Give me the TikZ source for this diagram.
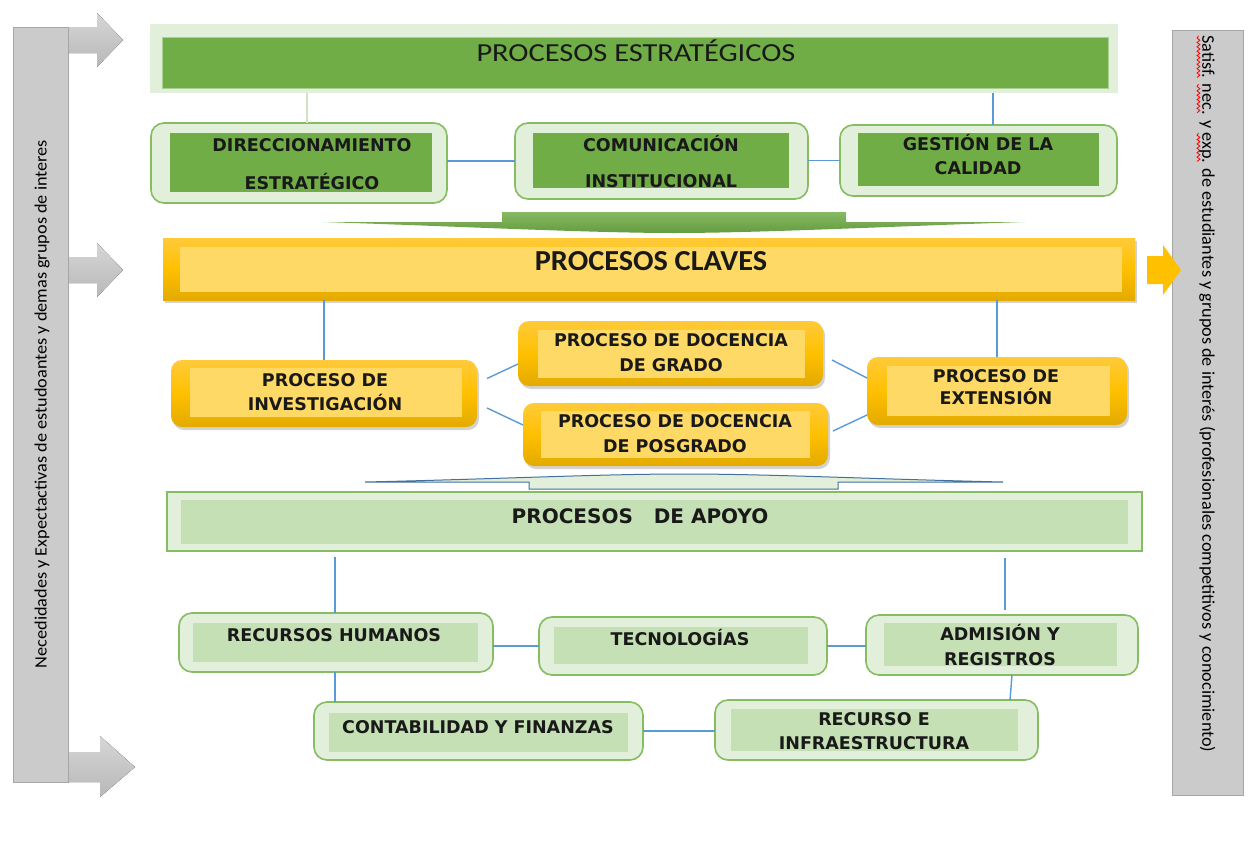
\documentclass[tikz,border=0pt]{standalone}
\usepackage{fontspec}
\usepackage{graphicx}
\usetikzlibrary{fit,shadows,calc}
\newfontfamily\dvsans{DejaVu Sans}
\newfontfamily\carl{Carlito}
\definecolor{lgreen}{HTML}{E2EFDA}
\definecolor{dgreen}{HTML}{70AD47}
\definecolor{mgreen}{HTML}{C5E0B4}
\definecolor{bgreen}{HTML}{86BC62}
\definecolor{lineblue}{HTML}{5B9BD5}
\definecolor{paleline}{HTML}{CFE2C3}
\definecolor{yinner}{HTML}{FFD966}
\definecolor{ytop}{HTML}{FFCA3A}
\definecolor{ymid}{HTML}{FFC000}
\definecolor{ybot}{HTML}{E3AA00}
\definecolor{barfill}{HTML}{CBCBCB}
\definecolor{bardraw}{HTML}{A6A6A6}
\definecolor{arrtop}{HTML}{D6D6D6}
\definecolor{arrbot}{HTML}{B8B8B8}
\definecolor{darrow}{HTML}{41719C}
\newcommand\labfont{\dvsans\bfseries\fontsize{17.5}{20}\selectfont}
\newlength\wavelen
\newcount\wavei
\newdimen\wavex
\newcommand\redwave[1]{\settowidth\wavelen{#1}\leavevmode\rlap{\begin{pgfpicture}%
  \pgfsetbaseline{0pt}%
  \pgfsetcolor{red}\pgfsetlinewidth{0.45pt}%
  \wavex=0pt \wavei=0
  \pgfpathmoveto{\pgfpoint{0pt}{-2.2pt}}%
  \loop\ifdim\wavex<\wavelen
    \advance\wavex by 1.2pt \advance\wavei by 1
    \ifodd\wavei \pgfpathlineto{\pgfpoint{\wavex}{-3.0pt}}\else \pgfpathlineto{\pgfpoint{\wavex}{-1.4pt}}\fi
  \repeat
  \pgfusepath{stroke}%
  \end{pgfpicture}}#1}
\newsavebox\rtbox
\newsavebox\ltbox
\tikzset{
  conn/.style={draw=lineblue, line width=1.4pt},
  pale/.style={draw=paleline, line width=1.4pt},
  fitbox/.style={inner sep=0pt, outer sep=0pt},
  gbox/.style={fitbox, draw=bgreen, line width=1.6pt, fill=lgreen, rounded corners=13pt},
  gdark/.style={fitbox, fill=dgreen},
  gmid/.style={fitbox, fill=mgreen},
  ybox/.style={fitbox, rounded corners=11pt, top color=ytop, bottom color=ybot, middle color=ymid,
    drop shadow={opacity=0.35, shadow xshift=2pt, shadow yshift=-3pt}},
  yin/.style={fitbox, fill=yinner},
  lab/.style={font=\labfont, anchor=base, inner sep=0pt, text=black!90},
  graybar/.style={fitbox, fill=barfill, draw=bardraw, line width=1pt},
  grayarrow/.style={top color=arrtop, bottom color=arrbot, draw=none},
}
\begin{document}
\sbox\rtbox{\carl \redwave{Satisf}. \redwave{nec}. y \redwave{exp}. de estudiantes y grupos de interés (profesionales competitivos y conocimiento)}%
\sbox\ltbox{\carl Necedidades y Expectactivas de estudoantes y demas grupos de interes}%
\begin{tikzpicture}[x=1pt,y=-1pt]
\useasboundingbox (0,0) rectangle (1251,854);
\fill[white] (0,0) rectangle (1251,854);

% ---------- left gray bar and arrows ----------
\fill[grayarrow] (60,27) -- (97,27) -- (97,13) -- (123,40) -- (97,67) -- (97,53) -- (60,53) -- cycle;
\fill[grayarrow] (60,257) -- (97,257) -- (97,243) -- (123,270) -- (97,297) -- (97,283) -- (60,283) -- cycle;
\fill[grayarrow] (60,752) -- (100,752) -- (100,736) -- (135,767) -- (100,797) -- (100,782) -- (60,782) -- cycle;
\node[graybar, fit={(13,27) (68,782)}] (lbar) {};
\node[rotate=90, inner sep=0pt] (ltext) at (42,404) {\resizebox{528pt}{12pt}{\usebox\ltbox}};

% ---------- right gray bar and yellow arrow ----------
\node[graybar, fit={(1172,30) (1243,795)}] (rbar) {};
\node[rotate=-90, inner sep=0pt] (rtext) at (1206,394) {\resizebox{717pt}{13pt}{\usebox\rtbox}};
\fill[ymid] (1147,256) -- (1163,256) -- (1163,245) -- (1181,270) -- (1163,295) -- (1163,284) -- (1147,284) -- cycle;

% ---------- procesos estrategicos ----------
\node[fitbox, fill=lgreen, fit={(150,24) (1118,93)}] (estrat) {};
\node[gdark, draw=bgreen!70, line width=0.6pt, fit={(162,37) (1108,88)}] (estratin) {};
\node[anchor=base, inner sep=0pt, font=\carl\fontsize{26}{30}\selectfont, text=black!90] (testrat) at (636,61) {\scalebox{1.17}[1]{PROCESOS ESTRATÉGICOS}};

\node[gbox, fit={(151,123) (447,203)}] (dir) {};
\node[gdark, fit={(170,133) (432,192)}] (dirin) {};
\node[lab] (t1) at (312,151) {DIRECCIONAMIENTO};
\node[lab] (t2) at (312,189) {ESTRATÉGICO};

\node[gbox, fit={(515,123) (808,199)}] (com) {};
\node[gdark, fit={(533,133) (789,188)}] (comin) {};
\node[lab] (t3) at (661,151) {COMUNICACIÓN};
\node[lab] (t4) at (661,187) {INSTITUCIONAL};

\node[gbox, fit={(840,125) (1117,196)}] (gest) {};
\node[gdark, fit={(858,133) (1099,186)}] (gestin) {};
\node[lab] (t5) at (978,150) {GESTIÓN DE LA};
\node[lab] (t6) at (978,174) {CALIDAD};

\coordinate (c1) at ($(dir.north)+(8,0)$);
\draw[pale] (c1) -- (c1 |- estrat.south);
\coordinate (c2) at ($(gest.north)+(14.5,0)$);
\draw[conn] (c2) -- (c2 |- estrat.south);
\draw[conn] (com.west) -- (com.west -| dir.east);
\draw[conn] (gest.west) -- (gest.west -| com.east);

% green down arrow
\shade[top color=dgreen!85!white, bottom color=dgreen!90!black]
  (502,212) -- (846,212) -- (846,222) -- (1025,222)
  .. controls (900,226) and (760,233) .. (674,233)
  .. controls (590,233) and (450,226) .. (322,222) -- (502,222) -- cycle;

% ---------- procesos claves ----------
\node[fitbox, top color=ytop, bottom color=ybot, middle color=ymid,
  drop shadow={opacity=0.35, shadow xshift=2pt, shadow yshift=-3pt}, fit={(163,238) (1135,300)}] (claves) {};
\node[yin, fit={(180,247) (1122,292)}] (clavesin) {};
\node[anchor=base, inner sep=0pt, font=\carl\bfseries\fontsize{29}{32}\selectfont, text=black!90] (tclaves) at (651,270) {\scalebox{1.045}[1]{PROCESOS CLAVES}};

\node[ybox, fit={(171,360) (477,427)}] (inv) {};
\node[yin, fit={(190,368) (462,417)}] (invin) {};
\node[lab] (t7) at (325,386) {PROCESO DE};
\node[lab] (t8) at (325,410) {INVESTIGACIÓN};

\node[ybox, fit={(518,321) (823,386)}] (grado) {};
\node[yin, fit={(538,330) (805,378)}] (gradoin) {};
\node[lab] (t9) at (671,346) {PROCESO DE DOCENCIA};
\node[lab] (t10) at (671,371) {DE GRADO};

\node[ybox, fit={(523,403) (828,466)}] (pos) {};
\node[yin, fit={(541,411) (810,458)}] (posin) {};
\node[lab] (t11) at (675,427) {PROCESO DE DOCENCIA};
\node[lab] (t12) at (675,452) {DE POSGRADO};

\node[ybox, fit={(867,357) (1127,425)}] (ext) {};
\node[yin, fit={(887,366) (1110,416)}] (extin) {};
\node[lab] (t13) at (996,382) {PROCESO DE};
\node[lab] (t14) at (996,404) {EXTENSIÓN};

\draw[conn] (inv.north) -- (inv.north |- claves.south);
\draw[conn] (ext.north) -- (ext.north |- claves.south);
\draw[conn] ($(inv.east)+(10,-15)$) -- ($(grado.west)+(0,10.5)$);
\draw[conn] ($(inv.east)+(10,14.5)$) -- ($(pos.west)+(0,-9.5)$);
\draw[conn] ($(grado.east)+(9,6.5)$) -- ($(ext.west)+(0,-13)$);
\draw[conn] ($(pos.east)+(5,-3.5)$) -- ($(ext.west)+(0,24)$);

% blue up arrow
\filldraw[fill=lgreen, draw=darrow, line width=1pt]
  (365,482) .. controls (500,479) and (600,474) .. (684,474)
  .. controls (770,474) and (870,479) .. (1003,482)
  -- (838,482) -- (838,489) -- (529,489) -- (529,482) -- cycle;

% ---------- procesos de apoyo ----------
\node[fitbox, fill=lgreen, draw=bgreen, line width=1.6pt, fit={(167,492) (1142,551)}] (apoyo) {};
\node[gmid, fit={(181,500) (1128,544)}] (apoyoin) {};
\node[anchor=base, inner sep=0pt, font=\dvsans\bfseries\fontsize{20}{24}\selectfont, text=black!90] (tapoyo) at (640,523) {PROCESOS\ \ \ DE APOYO};

\node[gbox, fit={(179,613) (493,672)}] (rrhh) {};
\node[gmid, fit={(193,623) (478,662)}] (rrhhin) {};
\node[lab] (t15) at (334,641) {RECURSOS HUMANOS};

\node[gbox, fit={(539,617) (827,675)}] (tec) {};
\node[gmid, fit={(554,627) (808,664)}] (tecin) {};
\node[lab] (t16) at (680,645) {TECNOLOGÍAS};

\node[gbox, fit={(866,615) (1138,675)}] (adm) {};
\node[gmid, fit={(884,623) (1117,666)}] (admin) {};
\node[lab] (t17) at (1000,640) {ADMISIÓN Y};
\node[lab] (t18) at (1000,665) {REGISTROS};

\node[gbox, fit={(314,702) (643,760)}] (cont) {};
\node[gmid, fit={(329,713) (628,752)}] (contin) {};
\node[lab] (t19) at (478,733) {CONTABILIDAD Y FINANZAS};

\node[gbox, fit={(715,700) (1038,760)}] (rec) {};
\node[gmid, fit={(731,709) (1018,751)}] (recin) {};
\node[lab] (t20) at (874,725) {RECURSO E};
\node[lab] (t21) at (874,749) {INFRAESTRUCTURA};

\coordinate (c3) at ($(rrhh.north)+(-1,0)$);
\draw[conn] (c3) -- ($(c3 |- apoyo.south)+(0,6)$);
\coordinate (c4) at ($(adm.north)+(3,-5)$);
\draw[conn] (c4) -- ($(c4 |- apoyo.south)+(0,7)$);
\draw[conn] (tec.west) -- (tec.west -| rrhh.east);
\draw[conn] (tec.east) -- (tec.east -| adm.west);
\draw[conn] (rrhh.south -| c3) -- (cont.north -| c3);
\coordinate (c5) at ($(adm.south)+(10,0)$);
\coordinate (c6) at ($(rec.north)+(133.5,0)$);
\draw[conn] (c5) -- (c6);
\draw[conn] (cont.east) -- (cont.east -| rec.west);
\end{tikzpicture}
\end{document}
